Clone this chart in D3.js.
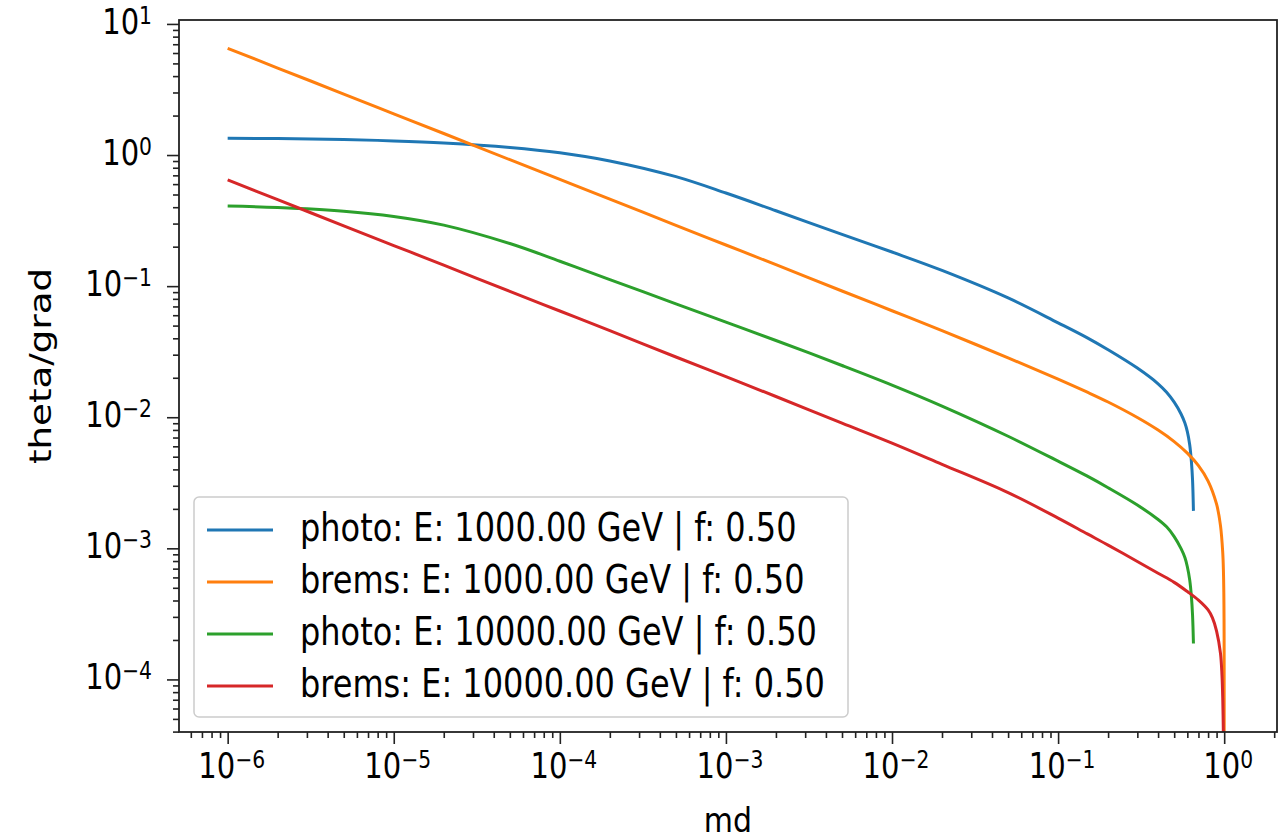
<!DOCTYPE html>
<html>
<head>
<meta charset="utf-8">
<script src="https://cdn.jsdelivr.net/npm/d3@7"></script>
<style>
  html, body { margin: 0; padding: 0; background: #ffffff; }
  svg { display: block; }
  text { font-family: "DejaVu Sans", sans-serif; fill: #000; }
</style>
</head>
<body>
<svg id="chart" width="1286" height="840"></svg>
<script>
// ---- data -------------------------------------------------------------
// md sample points for the photo curves (they stop near md = 0.65)
const mdPhoto = [1e-6, 2e-6, 5e-6, 1e-5, 2e-5, 5e-5, 1e-4, 2e-4, 5e-4, 1e-3,
                 2e-3, 5e-3, 1e-2, 2e-2, 5e-2, 0.1, 0.15, 0.2, 0.3, 0.4,
                 0.45, 0.5, 0.55, 0.58, 0.6, 0.62, 0.635, 0.645, 0.653];
const photo1000 = [1.340, 1.334, 1.312, 1.282, 1.236, 1.143, 1.042, 0.902, 0.684, 0.513,
                   0.376, 0.248, 0.182, 0.1318, 0.0813, 0.0525, 0.0403, 0.0327, 0.0237, 0.01799,
                   0.01549, 0.01303, 0.01059, 0.00902, 0.00776, 0.00617, 0.00457, 0.00331, 0.00193];
const photo10000 = [0.408, 0.398, 0.373, 0.340, 0.292, 0.2113, 0.1549, 0.1122, 0.0733, 0.0531,
                    0.0385, 0.0248, 0.01758, 0.01216, 0.00716, 0.00462, 0.00355, 0.0029, 0.00214, 0.00166,
                    0.00146, 0.00123, 0.000995, 0.000851, 0.000724, 0.000575, 0.000427, 0.000309, 0.000188];

// md sample points for the bremsstrahlung curves (they run down to md = 1)
const mdBrems1000 = [1e-6, 2e-6, 5e-6, 1e-5, 2e-5, 5e-5, 1e-4, 2e-4, 5e-4, 1e-3,
                     2e-3, 5e-3, 1e-2, 2e-2, 5e-2, 0.1, 0.15, 0.2, 0.3, 0.4,
                     0.5, 0.6, 0.7, 0.8, 0.9, 0.95, 0.98, 0.99, 0.995, 0.998,
                     0.999, 0.9995, 0.9999, 0.99999];
const brems1000 = [6.52, 4.61, 2.92, 2.06, 1.46, 0.921, 0.652, 0.461, 0.291, 0.206,
                   0.1457, 0.0918, 0.0649, 0.0457, 0.0284, 0.01954, 0.01552, 0.01306, 0.00995, 0.00798,
                   0.00652, 0.00532, 0.00427, 0.00326, 0.00217, 0.00149, 0.00093, 0.00066, 0.00046, 0.00029,
                   0.000206, 0.000146, 0.000065, 0.000021];
const mdBrems10000 = [1e-6, 2e-6, 5e-6, 1e-5, 2e-5, 5e-5, 1e-4, 2e-4, 5e-4, 1e-3,
                      2e-3, 5e-3, 1e-2, 2e-2, 5e-2, 0.1, 0.15, 0.2, 0.3, 0.4,
                      0.5, 0.6, 0.7, 0.8, 0.85, 0.9, 0.95, 0.97, 0.98, 0.99];
const brems10000 = [0.6457, 0.457, 0.288, 0.204, 0.1445, 0.0912, 0.0646, 0.0457, 0.0288, 0.0204,
                    0.01439, 0.00902, 0.00634, 0.00437, 0.00266, 0.0017, 0.001288, 0.001059, 0.000794, 0.000646,
                    0.00055, 0.000468, 0.000403, 0.000339, 0.000295, 0.000234, 0.000158, 0.000107, 0.0000724, 0.0000355];

const seriesLabels = [
  "photo: E: 1000.00 GeV | f: 0.50",
  "brems: E: 1000.00 GeV | f: 0.50",
  "photo: E: 10000.00 GeV | f: 0.50",
  "brems: E: 10000.00 GeV | f: 0.50"
];
const seriesColors = ["#1f77b4", "#ff7f0e", "#2ca02c", "#d62728"];

const xTickExps = [-6, -5, -4, -3, -2, -1, 0];
const yTickExps = [1, 0, -1, -2, -3, -4];
const xLabel = "md";
const yLabel = "theta/grad";

// ---- layout -----------------------------------------------------------
const svg = d3.select("#chart");
const plot = { left: 179, top: 20, right: 1277, bottom: 732 };
const textStretch = 1.2;           // glyphs are drawn a little taller than wide
const tickFont = 29, legendFont = 32, labelFont = 30;

const x = d3.scaleLog()
  .domain([Math.pow(10, -6.293), Math.pow(10, 0.318)])
  .range([plot.left, plot.right]);
const y = d3.scaleLog()
  .domain([Math.pow(10, -4.401), Math.pow(10, 1.030)])
  .range([plot.bottom, plot.top]);

const series = [
  { md: mdPhoto, v: photo1000 },
  { md: mdBrems1000, v: brems1000 },
  { md: mdPhoto, v: photo10000 },
  { md: mdBrems10000, v: brems10000 }
].map((s, i) => ({
  label: seriesLabels[i],
  color: seriesColors[i],
  points: s.md.map((m, j) => [m, s.v[j]])
}));

// minor ticks: 2..9 within each decade that falls inside the domain
function minorTicks(scale) {
  const [a, b] = scale.domain();
  const out = [];
  for (let e = Math.floor(Math.log10(a)); e <= Math.ceil(Math.log10(b)); e++) {
    for (let k = 2; k <= 9; k++) {
      const v = k * Math.pow(10, e);
      if (v >= a && v <= b) out.push(v);
    }
  }
  return out;
}

// ---- curves -----------------------------------------------------------
svg.append("clipPath").attr("id", "plotClip")
  .append("rect")
  .attr("x", plot.left).attr("y", plot.top)
  .attr("width", plot.right - plot.left).attr("height", plot.bottom - plot.top);

const line = d3.line()
  .x(d => x(d[0]))
  .y(d => y(d[1]))
  .curve(d3.curveCatmullRom.alpha(0.5));

svg.append("g").attr("clip-path", "url(#plotClip)")
  .selectAll("path").data(series).join("path")
  .attr("d", d => line(d.points))
  .attr("fill", "none")
  .attr("stroke", d => d.color)
  .attr("stroke-width", 3)
  .attr("stroke-linejoin", "round");

// ---- axes -------------------------------------------------------------
const axisColor = "#222";
const gx = svg.append("g").attr("transform", `translate(0,${plot.bottom})`);
gx.call(d3.axisBottom(x).tickValues(xTickExps.map(e => Math.pow(10, e))).tickSize(12).tickFormat(""));
gx.call(g => g.append("g").call(d3.axisBottom(x).tickValues(minorTicks(x)).tickSize(6).tickFormat("")));
const gy = svg.append("g").attr("transform", `translate(${plot.left},0)`);
gy.call(d3.axisLeft(y).tickValues(yTickExps.map(e => Math.pow(10, e))).tickSize(12).tickFormat(""));
gy.call(g => g.append("g").call(d3.axisLeft(y).tickValues(minorTicks(y)).tickSize(6).tickFormat("")));
svg.selectAll(".domain").remove();
svg.selectAll(".tick line").attr("stroke", axisColor).attr("stroke-width", 1.6);

// frame
svg.append("rect")
  .attr("x", plot.left).attr("y", plot.top)
  .attr("width", plot.right - plot.left).attr("height", plot.bottom - plot.top)
  .attr("fill", "none").attr("stroke", axisColor).attr("stroke-width", 1.8);

// power-of-ten label: "10" with a raised exponent
function powerLabel(parent, px, py, exp, anchor) {
  const g = parent.append("g").attr("transform", `translate(${px},${py}) scale(1,${textStretch})`);
  const t = g.append("text").attr("text-anchor", anchor).attr("font-size", tickFont);
  t.append("tspan").text("10");
  t.append("tspan").attr("dy", "-0.42em").attr("font-size", tickFont * 0.7)
    .text(exp < 0 ? "\u2212" + Math.abs(exp) : String(exp));
  return g;
}

xTickExps.forEach(e => powerLabel(svg, x(Math.pow(10, e)) + 4, 778, e, "middle"));
yTickExps.forEach(e => powerLabel(svg, 152, y(Math.pow(10, e)) + 10, e, "end"));

// axis titles
svg.append("g").attr("transform", `translate(${(plot.left + plot.right) / 2},${832}) scale(1,1.15)`)
  .append("text").attr("text-anchor", "middle").attr("font-size", labelFont).text(xLabel);
svg.append("g").attr("transform", `translate(${51},${366}) rotate(-90) scale(1.24,1)`)
  .append("text").attr("text-anchor", "middle").attr("font-size", labelFont).text(yLabel);

// ---- legend -----------------------------------------------------------
const legend = { x: 194, y: 497, w: 654, h: 220, rowY0: 530, rowGap: 52 };
svg.append("rect")
  .attr("x", legend.x).attr("y", legend.y).attr("width", legend.w).attr("height", legend.h)
  .attr("rx", 5).attr("fill", "#ffffff").attr("fill-opacity", 0.8)
  .attr("stroke", "#cccccc").attr("stroke-width", 1.5);
const rows = svg.append("g").selectAll("g").data(series).join("g")
  .attr("transform", (d, i) => `translate(0,${legend.rowY0 + i * legend.rowGap})`);
rows.append("line")
  .attr("x1", 207).attr("x2", 273).attr("y1", 0).attr("y2", 0)
  .attr("stroke", d => d.color).attr("stroke-width", 3);
rows.append("g").attr("transform", `translate(300,11) scale(1,${textStretch})`)
  .append("text").attr("font-size", legendFont).text(d => d.label);
</script>
</body>
</html>
